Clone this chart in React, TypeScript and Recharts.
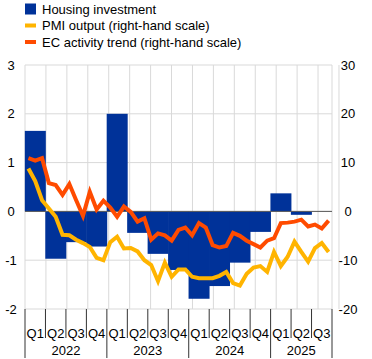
import { Bar, CartesianGrid, ComposedChart, Legend, Line, ReferenceLine, XAxis, YAxis } from "recharts";

const FONT = '"Liberation Sans", Arial, sans-serif';
const BLUE = "#003299";
const YELLOW = "#ffb400";
const ORANGE = "#ff4b00";

const years = ["2022", "2023", "2024", "2025"];
const quarterNames = ["Q1", "Q2", "Q3", "Q4"];

// quarterly, left-hand scale (Q1 2022 .. Q3 2025)
const housing = [1.65, -0.97, -0.63, -0.72, 2.0, -0.44, -0.87, -1.2, -1.79, -1.53, -1.05, -0.42, 0.37, -0.07, null];
// monthly, right-hand scale (Jan 2022 .. Sep 2025)
const pmi = [8.8, 6.2, 2.3, 0.6, -1.1, -4.8, -4.9, -5.8, -6.5, -7.3, -9.5, -10.0, -6.3, -5.2, -7.6, -7.5, -8.2, -10.0, -11.0, -14.3, -10.5, -13.4, -11.9, -11.9, -13.4, -13.7, -13.7, -13.7, -13.2, -12.4, -14.7, -15.2, -12.8, -11.5, -11.2, -12.4, -8.3, -11.2, -9.3, -6.2, -8.3, -10.3, -7.5, -6.5, -8.3];
const ec = [10.9, 10.4, 10.9, 5.8, 5.4, 3.4, 5.6, 2.3, -0.9, 4.0, 0.4, 2.2, 0.8, -1.1, 1.0, -0.1, -2.1, -1.4, -5.8, -4.5, -4.9, -6.0, -3.8, -3.3, -4.9, -2.4, -3.3, -6.9, -7.4, -7.1, -4.4, -5.0, -6.0, -6.7, -7.4, -6.0, -5.5, -2.4, -2.3, -2.1, -1.7, -3.1, -2.7, -3.5, -1.9];

const leftTicks = [-2, -1, 0, 1, 2, 3];
const rightTicks = [-20, -10, 0, 10, 20, 30];
const quarterBounds = [0, 3, 6, 9, 12, 15, 18, 21, 24, 27, 30, 33, 36, 39, 42, 45];

const legendItems = [
  { name: "Housing investment", color: BLUE, kind: "bar" },
  { name: "PMI output (right-hand scale)", color: YELLOW, kind: "line" },
  { name: "EC activity trend (right-hand scale)", color: ORANGE, kind: "line" },
];

const data = pmi.map((p, i) => {
  const qi = Math.floor(i / 3);
  return {
    m: i,
    year: years[Math.floor(i / 12)],
    q: quarterNames[qi % 4],
    housing: i % 3 === 1 ? housing[qi] : null,
    pmi: p,
    ec: ec[i],
  };
});

function QuarterBar(props: any) {
  const { x, y, width, height, fill } = props;
  if (!height) return <g />;
  const top = Math.min(y, y + height);
  return <rect x={x - width} y={top} width={width * 3} height={Math.abs(height)} fill={fill} />;
}

function MonthTick(props: any) {
  const { x, y, payload } = props;
  const i = payload.index ?? payload.value;
  const off = payload.offset ?? 0;
  const row = data[i];
  const out: any[] = [];
  const sep = (sx: number, long: boolean, k: string) => (
    <line key={k} x1={sx} x2={sx} y1={y} y2={y + (long ? 49 : 29)} stroke="#333" strokeWidth={1} />
  );
  if (i % 3 === 0) out.push(sep(x - off, i % 12 === 0, "s"));
  if (i === data.length - 1) out.push(sep(x + off, true, "e"));
  if (i % 3 === 1)
    out.push(
      <text key="q" x={x} y={y + 24} textAnchor="middle" dominantBaseline="central" fontSize={13} fill="#000" fontFamily={FONT}>
        {row.q}
      </text>
    );
  if (i % 12 === 0) {
    const n = data.filter((d) => d.year === row.year).length;
    out.push(
      <text key="y" x={x - off + n * off} y={y + 41} textAnchor="middle" dominantBaseline="central" fontSize={13} fill="#000" fontFamily={FONT}>
        {row.year}
      </text>
    );
  }
  return <g>{out}</g>;
}

const LeftTick = (props: any) => (
  <text x={props.x - 14} y={props.y} textAnchor="middle" dominantBaseline="central" fontSize={13} fill="#000" fontFamily={FONT}>
    {props.payload.value}
  </text>
);

const RightTick = (props: any) => (
  <text x={props.x + 16} y={props.y} textAnchor="middle" dominantBaseline="central" fontSize={13} fill="#000" fontFamily={FONT}>
    {props.payload.value}
  </text>
);

function LegendBox() {
  return (
    <svg width={372} height={60} style={{ display: "block" }}>
      {legendItems.map((it, k) => {
        const cy = 9 + k * 16.5;
        return (
          <g key={it.name}>
            {it.kind === "bar" ? (
              <rect x={25} y={cy - 5.5} width={11} height={11} fill={it.color} />
            ) : (
              <rect x={25} y={cy - 2} width={11} height={4} fill={it.color} />
            )}
            <text x={42} y={cy} dominantBaseline="central" fontSize={13} fill="#000" fontFamily={FONT}>
              {it.name}
            </text>
          </g>
        );
      })}
    </svg>
  );
}

export default function App() {
  return (
    <div style={{ position: "absolute", left: 0, top: 0, fontFamily: FONT }}>
      <ComposedChart width={372} height={359} data={data} margin={{ top: 0, right: 0, bottom: 0, left: 0 }} barCategoryGap={0} barGap={0}>
        <Legend verticalAlign="top" align="left" height={65} wrapperStyle={{ top: 0, left: 0, width: 372 }} content={() => <LegendBox />} />
        <XAxis xAxisId="g" type="number" domain={[0, 45]} ticks={quarterBounds} interval={0} hide />
        <XAxis dataKey="m" height={50} interval={0} tickSize={0} tickMargin={0} tickLine={false} axisLine={false} tick={<MonthTick />} />
        <YAxis yAxisId="l" domain={[-2, 3]} ticks={leftTicks} width={25} tickSize={0} tickMargin={0} tickLine={false} axisLine={false} tick={<LeftTick />} />
        <YAxis yAxisId="r" orientation="right" domain={[-20, 30]} ticks={rightTicks} width={40} tickSize={0} tickMargin={0} tickLine={false} axisLine={false} tick={<RightTick />} />
        <CartesianGrid xAxisId="g" yAxisId="l" stroke="#d9d9d9" strokeWidth={1} />
        <Bar yAxisId="l" dataKey="housing" name="Housing investment" fill={BLUE} shape={<QuarterBar />} isAnimationActive={false} />
        <ReferenceLine yAxisId="l" y={0} stroke="#595959" strokeWidth={1} />
        <Line yAxisId="r" dataKey="pmi" name="PMI output (right-hand scale)" stroke={YELLOW} strokeWidth={4} dot={false} type="linear" isAnimationActive={false} />
        <Line yAxisId="r" dataKey="ec" name="EC activity trend (right-hand scale)" stroke={ORANGE} strokeWidth={4} dot={false} type="linear" isAnimationActive={false} />
      </ComposedChart>
    </div>
  );
}
